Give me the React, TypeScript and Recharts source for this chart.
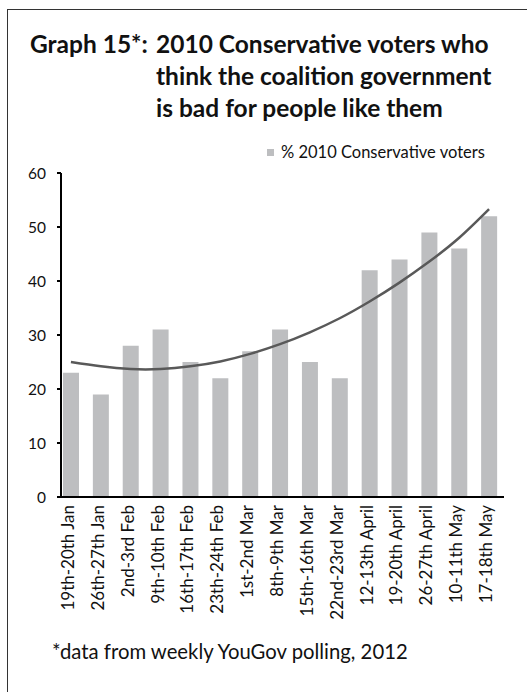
import React from "react";
import { ComposedChart, Bar, Line, XAxis, YAxis, Legend } from "recharts";

const categories = [
  "19th-20th Jan",
  "26th-27th Jan",
  "2nd-3rd Feb",
  "9th-10th Feb",
  "16th-17th Feb",
  "23th-24th Feb",
  "1st-2nd Mar",
  "8th-9th Mar",
  "15th-16th Mar",
  "22nd-23rd Mar",
  "12-13th April",
  "19-20th April",
  "26-27th April",
  "10-11th May",
  "17-18th May",
];
const conservativeVoters = [23, 19, 28, 31, 25, 22, 27, 31, 25, 22, 42, 44, 49, 46, 52];
const trendline = [25.0, 24.2, 23.7, 23.7, 24.2, 25.1, 26.5, 28.3, 30.5, 33.1, 36.2, 39.7, 43.6, 48.0, 53.3];
const yTicks = [0, 10, 20, 30, 40, 50, 60];

const seriesName = "% 2010 Conservative voters";
const titleLead = "Graph 15*:";
const titleLines = [
  "2010 Conservative voters who",
  "think the coalition government",
  "is bad for people like them",
];
const footnote = "*data from weekly YouGov polling, 2012";

const data = categories.map((week, i) => ({
  week,
  value: conservativeVoters[i],
  trend: trendline[i],
}));

const FONT = "Lato, 'Noto Sans', sans-serif";

const XTick = (props: any) => {
  const { x, y, payload } = props;
  return (
    <text
      x={x}
      y={y}
      dy={3}
      transform={`rotate(-90 ${x} ${y})`}
      textAnchor="end"
      fontFamily={FONT}
      fontSize={17}
      fill="#111"
    >
      {payload.value}
    </text>
  );
};

const LegendContent = () => (
  <div style={{ display: "flex", alignItems: "center", fontFamily: FONT, fontSize: 16.5, color: "#111", whiteSpace: "nowrap" }}>
    <span style={{ display: "inline-block", width: 7, height: 7, background: "#BDBEC0", marginRight: 7 }} />
    <span>{seriesName}</span>
  </div>
);

export default function App() {
  return (
    <div style={{ position: "absolute", left: 0, top: 0, width: 527, height: 692, background: "#fff", overflow: "hidden" }}>
      <div
        style={{
          position: "absolute",
          left: 7,
          top: 9,
          width: 600,
          height: 700,
          borderTop: "1.5px solid #333",
          borderLeft: "1.5px solid #333",
        }}
      />
      <div style={{ position: "absolute", left: 30, top: 28, fontFamily: FONT, fontWeight: 700, fontSize: 24.5, lineHeight: "32px", color: "#111", whiteSpace: "nowrap" }}>
        {titleLead}
      </div>
      <div style={{ position: "absolute", left: 156, top: 28, fontFamily: FONT, fontWeight: 700, fontSize: 24.5, lineHeight: "32px", color: "#111", whiteSpace: "nowrap" }}>
        {titleLines.map((t) => (
          <div key={t}>{t}</div>
        ))}
      </div>
      <div style={{ position: "absolute", left: 52, top: 639, fontFamily: FONT, fontSize: 20.3, lineHeight: "24px", color: "#111", whiteSpace: "nowrap" }}>
        {footnote}
      </div>
      <div style={{ position: "absolute", left: 0, top: 0 }}>
        <ComposedChart
          width={527}
          height={692}
          data={data}
          margin={{ top: 173, right: 23, bottom: 0, left: 0 }}
          barCategoryGap={0}
        >
          <XAxis
            dataKey="week"
            interval={0}
            height={195}
            tickLine={false}
            tickSize={0}
            tickMargin={8}
            tick={<XTick />}
            axisLine={{ stroke: "#000", strokeWidth: 2 }}
            padding={{ left: -5, right: 0 }}
          />
          <YAxis
            domain={[0, 60]}
            ticks={yTicks}
            width={61}
            tickSize={4}
            tickMargin={11}
            axisLine={{ stroke: "#000", strokeWidth: 2 }}
            tickLine={{ stroke: "#000", strokeWidth: 2 }}
            tick={{ fontFamily: FONT, fontSize: 15.5, fill: "#111" }}
            interval={0}
          />
          <Legend
            layout="horizontal"
            verticalAlign="middle"
            align="center"
            content={<LegendContent />}
            wrapperStyle={{ top: 142, left: 267, width: 260, height: 22 }}
          />
          <Bar dataKey="value" name={seriesName} fill="#BDBEC0" barSize={16} isAnimationActive={false} />
          <Line
            dataKey="trend"
            type="natural"
            stroke="#595959"
            strokeWidth={2.5}
            dot={false}
            activeDot={false}
            legendType="none"
            isAnimationActive={false}
          />
        </ComposedChart>
      </div>
    </div>
  );
}
